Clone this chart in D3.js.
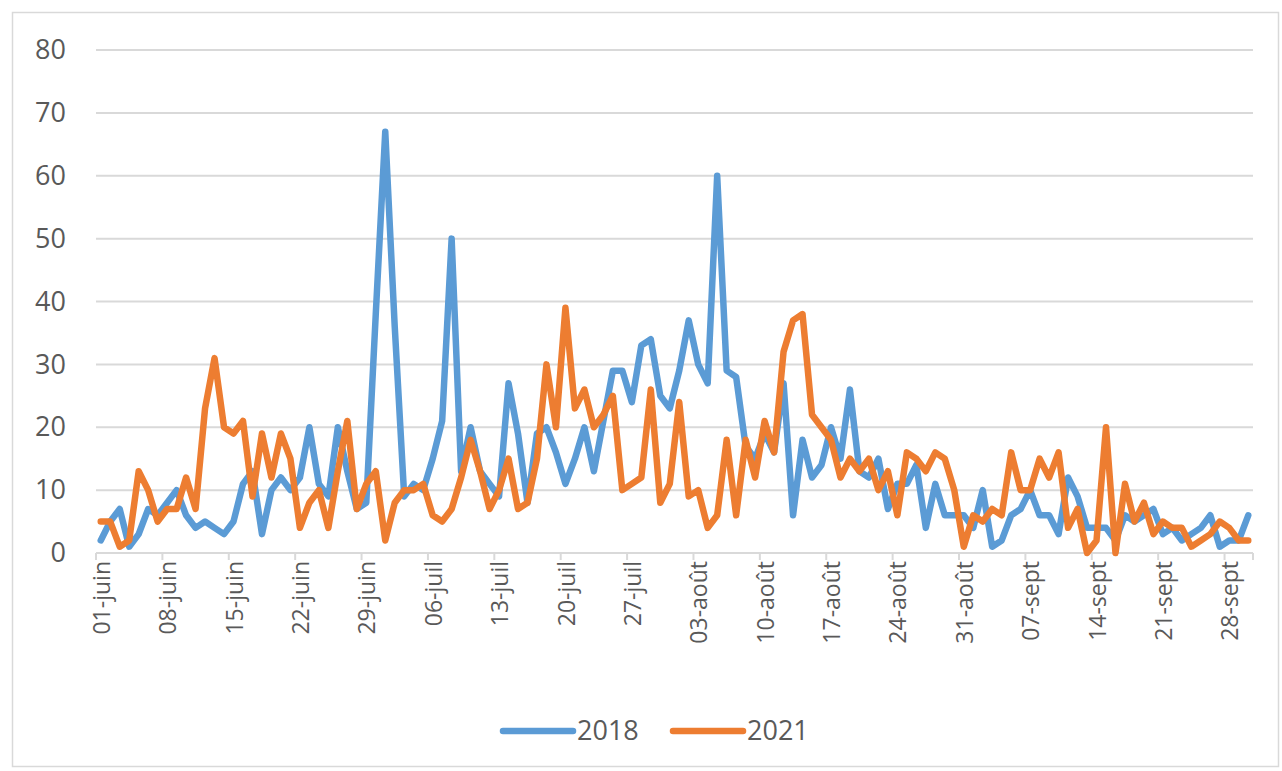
<!DOCTYPE html>
<html>
<head>
<meta charset="utf-8">
<script src="https://cdn.jsdelivr.net/npm/d3@7"></script>
<style>
  body { margin: 0; background: #fff; }
  svg { display: block; }
</style>
</head>
<body>
<svg id="chart" width="1282" height="771"></svg>
<script>
// daily values, 01-juin .. 30-sept (122 days)
const series2018 = [
  2, 5, 7, 1, 3, 7, 6, 8, 10, 6, 4, 5, 4, 3, 5, 11, 13, 3, 10, 12,
  10, 12, 20, 11, 9, 20, 13, 7, 8, 38, 67, 36, 9, 11, 10, 15, 21, 50, 13, 20,
  13, 11, 9, 27, 19, 8, 19, 20, 16, 11, 15, 20, 13, 21, 29, 29, 24, 33, 34, 25,
  23, 29, 37, 30, 27, 60, 29, 28, 17, 15, 19, 16, 27, 6, 18, 12, 14, 20, 15, 26,
  13, 12, 15, 7, 11, 11, 14, 4, 11, 6, 6, 6, 4, 10, 1, 2, 6, 7, 10, 6,
  6, 3, 12, 9, 4, 4, 4, 2, 6, 5, 6, 7, 3, 4, 2, 3, 4, 6, 1, 2,
  2, 6
]
const series2021 = [
  5, 5, 1, 2, 13, 10, 5, 7, 7, 12, 7, 23, 31, 20, 19, 21, 9, 19, 12, 19,
  15, 4, 8, 10, 4, 13, 21, 7, 11, 13, 2, 8, 10, 10, 11, 6, 5, 7, 12, 18,
  13, 7, 10, 15, 7, 8, 15, 30, 20, 39, 23, 26, 20, 22, 25, 10, 11, 12, 26, 8,
  11, 24, 9, 10, 4, 6, 18, 6, 18, 12, 21, 16, 32, 37, 38, 22, 20, 18, 12, 15,
  13, 15, 10, 13, 6, 16, 15, 13, 16, 15, 10, 1, 6, 5, 7, 6, 16, 10, 10, 15,
  12, 16, 4, 7, 0, 2, 20, 0, 11, 5, 8, 3, 5, 4, 4, 1, 2, 3, 5, 4,
  2, 2
]
const tickLabels = [
  '01-juin', '08-juin', '15-juin', '22-juin', '29-juin', '06-juil', '13-juil',
  '20-juil', '27-juil', '03-août', '10-août', '17-août', '24-août', '31-août',
  '07-sept', '14-sept', '21-sept', '28-sept'
]
const yTicks = [0, 10, 20, 30, 40, 50, 60, 70, 80]
const seriesNames = ['2018', '2021']

const colors = ['#5b9bd5', '#ed7d31']
const font = "'Open Sans', 'Noto Sans', sans-serif"
const textColor = '#595959'
const gridColor = '#d9d9d9'

const margin = { top: 50, right: 29, bottom: 218, left: 96 }
const fullWidth = 1282
const fullHeight = 771
const width = fullWidth - margin.left - margin.right
const height = fullHeight - margin.top - margin.bottom

const svg = d3.select('#chart')

// chart frame
svg.append('rect')
  .attr('x', 12.5).attr('y', 12.5)
  .attr('width', fullWidth - 16).attr('height', fullHeight - 17)
  .attr('fill', 'none')
  .attr('stroke', '#d9d9d9')
  .attr('stroke-width', 1.5)

const g = svg.append('g')
  .attr('transform', 'translate(' + margin.left + ',' + margin.top + ')')

const days = d3.range(series2018.length)
const x = d3.scaleBand().domain(days).range([0, width]).padding(0)
const y = d3.scaleLinear().domain([0, 80]).range([height, 0])
const cx = function (i) { return x(i) + x.bandwidth() / 2 }

// gridlines
g.selectAll('.grid')
  .data(yTicks)
  .join('line')
  .attr('class', 'grid')
  .attr('x1', 0).attr('x2', width)
  .attr('y1', d => y(d)).attr('y2', d => y(d))
  .attr('stroke', gridColor)
  .attr('stroke-width', 2)

// y axis labels
const yAxis = d3.axisLeft(y).tickValues(yTicks).tickSize(0).tickPadding(30)
const yg = g.append('g').call(yAxis)
yg.select('.domain').remove()
yg.selectAll('text')
  .attr('fill', textColor)
  .style('font-family', font)
  .style('font-size', '27px')

// x axis: tick marks every 7 days, labels on first day of each week
const weekStarts = tickLabels.map((d, k) => k * 7)
g.selectAll('.xtick')
  .data(weekStarts.concat([days.length]))
  .join('line')
  .attr('class', 'xtick')
  .attr('x1', d => d < days.length ? x(d) : width)
  .attr('x2', d => d < days.length ? x(d) : width)
  .attr('y1', height).attr('y2', height + 7)
  .attr('stroke', gridColor)
  .attr('stroke-width', 2)

g.selectAll('.xlabel')
  .data(tickLabels)
  .join('text')
  .attr('class', 'xlabel')
  .attr('transform', (d, k) => 'translate(' + (cx(k * 7) + 1) + ',' + (height + 8) + ') rotate(-90)')
  .attr('text-anchor', 'end')
  .attr('dy', '0.35em')
  .attr('fill', textColor)
  .style('font-family', font)
  .style('font-size', '23px')
  .text(d => d)

// lines
const line = d3.line()
  .x((d, i) => cx(i))
  .y(d => y(d))

g.selectAll('.series')
  .data([series2018, series2021])
  .join('path')
  .attr('class', 'series')
  .attr('d', line)
  .attr('fill', 'none')
  .attr('stroke', (d, i) => colors[i])
  .attr('stroke-width', 6.5)
  .attr('stroke-linejoin', 'round')
  .attr('stroke-linecap', 'round')

// legend
const legend = svg.append('g').attr('transform', 'translate(500,731)')
const items = legend.selectAll('g')
  .data(seriesNames)
  .join('g')
  .attr('transform', (d, i) => 'translate(' + (i * 170) + ',0)')
items.append('line')
  .attr('x1', 3).attr('x2', 73)
  .attr('y1', 0).attr('y2', 0)
  .attr('stroke', (d, i) => colors[i])
  .attr('stroke-width', 6.5)
  .attr('stroke-linecap', 'round')
items.append('text')
  .attr('x', 77)
  .attr('dy', '0.35em')
  .attr('fill', textColor)
  .style('font-family', font)
  .style('font-size', '27px')
  .text(d => d)
</script>
</body>
</html>
